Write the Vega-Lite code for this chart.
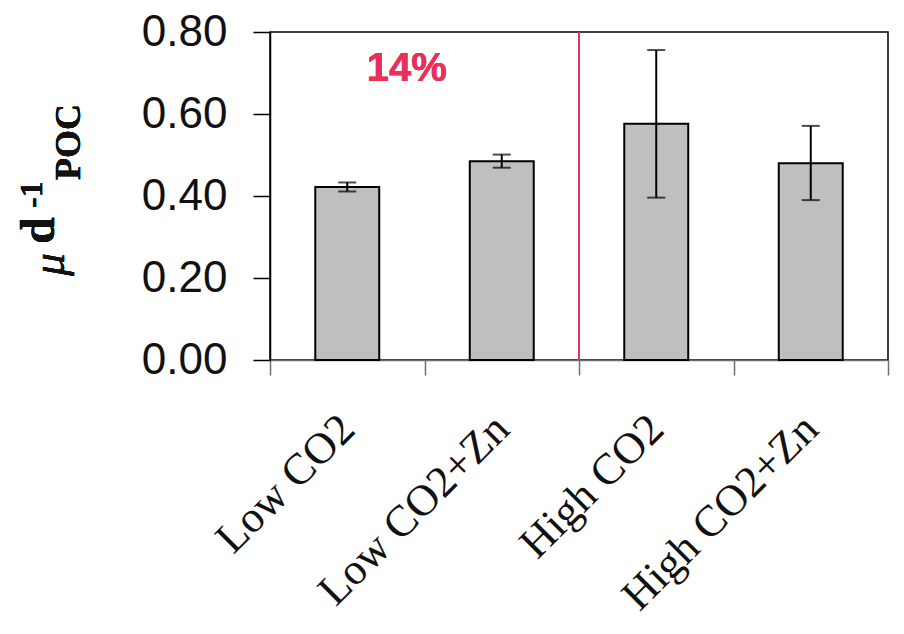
{
  "$schema": "https://vega.github.io/schema/vega-lite/v6.json",
  "width": 618,
  "height": 328,
  "autosize": {"type": "none"},
  "padding": {"left": 270, "top": 32, "right": 16, "bottom": 274},
  "background": "white",
  "config": {
    "view": {"stroke": "black", "strokeWidth": 1.5},
    "axis": {"grid": false}
  },
  "data": {
    "values": [
      {"treatment": "Low CO2", "mean": 0.422, "lo": 0.411, "hi": 0.433},
      {"treatment": "Low CO2+Zn", "mean": 0.485, "lo": 0.469, "hi": 0.501},
      {"treatment": "High CO2", "mean": 0.576, "lo": 0.396, "hi": 0.756},
      {"treatment": "High CO2+Zn", "mean": 0.48, "lo": 0.39, "hi": 0.571}
    ]
  },
  "encoding": {
    "x": {
      "field": "treatment",
      "type": "nominal",
      "sort": null,
      "scale": {"paddingInner": 0, "paddingOuter": 0},
      "axis": {
        "title": null,
        "labelAngle": -45,
        "labelAlign": "right",
        "labelBaseline": "middle",
        "labelFont": "Liberation Serif",
        "labelFontSize": 44,
        "labelLimit": 0,
        "labelColor": "#111111",
        "labelPadding": 47,
        "tickBand": "extent",
        "tickSize": 15,
        "tickColor": "#6e6e6e",
        "tickWidth": 1.5,
        "domainColor": "#6e6e6e",
        "domainWidth": 1.5
      }
    }
  },
  "layer": [
    {
      "mark": {"type": "bar", "fill": "#bfbfbf", "stroke": "black", "strokeWidth": 2, "width": {"band": 0.414}},
      "encoding": {
        "y": {
          "field": "mean",
          "type": "quantitative",
          "scale": {"domain": [0, 0.8], "nice": false},
          "axis": {
            "title": null,
            "values": [0, 0.2, 0.4, 0.6, 0.8],
            "format": ".2f",
            "labelFont": "Liberation Sans",
            "labelFontSize": 44,
            "labelColor": "#111111",
            "labelPadding": 26,
            "tickSize": 17,
            "tickColor": "black",
            "tickWidth": 1.5,
            "domainColor": "black",
            "domainWidth": 1.5
          }
        }
      }
    },
    {
      "mark": {"type": "rule", "color": "black", "strokeWidth": 2},
      "encoding": {
        "y": {"field": "lo", "type": "quantitative"},
        "y2": {"field": "hi"}
      }
    },
    {
      "mark": {"type": "tick", "color": "black", "thickness": 2, "size": 18},
      "encoding": {"y": {"field": "lo", "type": "quantitative"}}
    },
    {
      "mark": {"type": "tick", "color": "black", "thickness": 2, "size": 18},
      "encoding": {"y": {"field": "hi", "type": "quantitative"}}
    },
    {
      "mark": {"type": "rule", "color": "#e8305a", "strokeWidth": 1.5},
      "encoding": {
        "x": {"datum": "High CO2", "bandPosition": 0},
        "y": {"datum": 0.8},
        "y2": {"datum": 0}
      }
    },
    {
      "mark": {"type": "text", "text": "14%", "color": "#e8305a", "font": "Liberation Sans", "fontWeight": "bold", "fontSize": 40, "align": "center", "baseline": "middle"},
      "encoding": {
        "x": {"datum": "Low CO2", "bandPosition": 0.885},
        "y": {"datum": 0.71}
      }
    },
    {
      "mark": {"type": "text", "text": "μ", "font": "Liberation Serif", "fontStyle": "italic", "fontSize": 46, "angle": 270, "align": "left", "baseline": "alphabetic", "color": "#111111"},
      "encoding": {"x": {"value": -206}, "y": {"datum": 0.205}}
    },
    {
      "mark": {"type": "text", "text": "d", "font": "Liberation Serif", "fontWeight": "bold", "fontSize": 48, "angle": 270, "align": "left", "baseline": "alphabetic", "color": "#111111"},
      "encoding": {"x": {"value": -216}, "y": {"datum": 0.283}}
    },
    {
      "mark": {"type": "text", "text": "-1", "font": "Liberation Serif", "fontWeight": "bold", "fontSize": 32, "angle": 270, "align": "left", "baseline": "alphabetic", "color": "#111111"},
      "encoding": {"x": {"value": -228}, "y": {"datum": 0.371}}
    },
    {
      "mark": {"type": "text", "text": "POC", "font": "Liberation Serif", "fontWeight": "bold", "fontSize": 36, "angle": 270, "align": "left", "baseline": "alphabetic", "color": "#111111"},
      "encoding": {"x": {"value": -190}, "y": {"datum": 0.439}}
    }
  ]
}
